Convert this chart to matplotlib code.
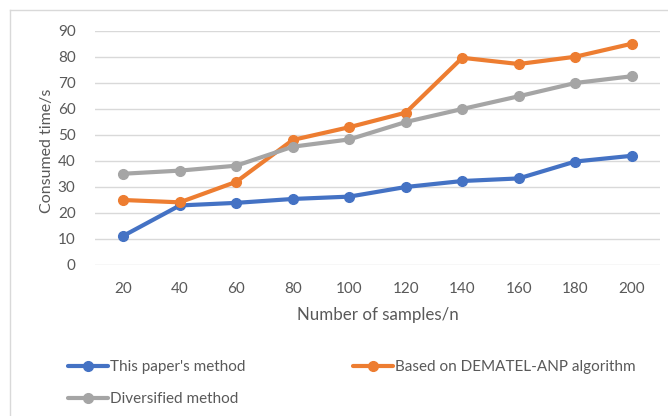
import matplotlib
matplotlib.use("Agg")
import matplotlib.pyplot as plt
from matplotlib.lines import Line2D

plt.rcParams['font.family'] = ['Lato', 'DejaVu Sans']

categories = ["20", "40", "60", "80", "100", "120", "140", "160", "180", "200"]
this_paper = [11.2, 22.9, 23.9, 25.4, 26.3, 30.0, 32.3, 33.3, 39.8, 42.0]
dematel_anp = [25.0, 24.1, 32.0, 48.1, 53.0, 58.6, 79.7, 77.3, 80.1, 85.1]
diversified = [35.1, 36.3, 38.2, 45.5, 48.3, 55.0, 60.0, 64.9, 70.0, 72.6]
series_names = ["This paper's method", "Based on DEMATEL-ANP algorithm", "Diversified method"]
yticks = [0, 10, 20, 30, 40, 50, 60, 70, 80, 90]

colors = ["#4472C4", "#ED7D31", "#A5A5A5"]
W, H = 668, 416
fig = plt.figure(figsize=(W / 100, H / 100), dpi=100)
ax = fig.add_axes([95 / W, 1 - 265 / H, (660 - 95) / W, (265 - 31) / H])

x = list(range(len(categories)))
handles = []
for vals, c, name in zip([this_paper, dematel_anp, diversified], colors, series_names):
    h, = ax.plot(x, vals, color=c, lw=3.0, marker='o', ms=7, solid_capstyle='round',
                 solid_joinstyle='round', label=name, zorder=3)
    handles.append(h)

ax.set_xlim(-0.5, len(categories) - 0.5)
ax.set_ylim(0, 90)
ax.set_yticks(yticks)
ax.set_xticks(x)
ax.set_xticklabels(categories)
ax.grid(axis='y', color='#D9D9D9', lw=1.0, zorder=0)
ax.set_axisbelow(True)
for s in ax.spines.values():
    s.set_visible(False)
ax.tick_params(length=0, labelsize=11, colors='#595959', pad=12)
ax.tick_params(axis='y', pad=14)

fig.text(47 / W, 1 - 151 / H, "Consumed time/s", rotation=90, ha='center', va='center',
         fontsize=11.5, color='#595959')
fig.text(378 / W, 1 - 315 / H, "Number of samples/n", ha='center', va='center',
         fontsize=12.2, color='#595959')

# chart frame (left and top edges)
fig.add_artist(Line2D([10 / W, 10 / W], [0, 1 - 10 / H], color='#D9D9D9', lw=1, transform=fig.transFigure))
fig.add_artist(Line2D([10 / W, 1], [1 - 10 / H, 1 - 10 / H], color='#D9D9D9', lw=1, transform=fig.transFigure))

leg = fig.legend([handles[0], handles[2], handles[1]],
                 [series_names[0], series_names[2], series_names[1]],
                 ncol=2, loc='upper left', bbox_to_anchor=(68 / W, 1 - 360 / H),
                 frameon=False, fontsize=11, handlelength=2.65, handletextpad=0.12,
                 columnspacing=7.0, labelspacing=1.2, borderpad=0, borderaxespad=0,
                 labelcolor='#595959')

fig.savefig("out.png", dpi=100, facecolor='white')
